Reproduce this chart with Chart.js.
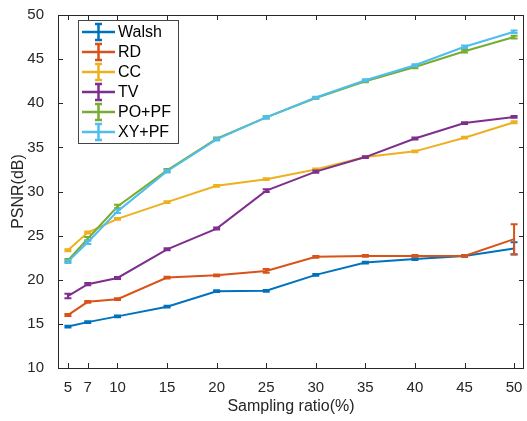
<!DOCTYPE html>
<html>
<head>
<meta charset="utf-8">
<script src="https://cdn.jsdelivr.net/npm/chart.js@4"></script>
<style>
  html, body { margin: 0; padding: 0; background: #fff; }
  #wrap { width: 527px; height: 421px; }
</style>
</head>
<body>
<div id="wrap"><canvas id="myChart" width="527" height="421"></canvas></div>
<script>
const ratios = [5, 7, 10, 15, 20, 25, 30, 35, 40, 45, 50];
const xTicks = [5, 7, 10, 15, 20, 25, 30, 35, 40, 45, 50];
const yTicks = [10, 15, 20, 25, 30, 35, 40, 45, 50];

const walsh = [14.7, 15.2, 15.85, 16.95, 18.7, 18.75, 20.55, 21.95, 22.35, 22.7, 23.55];
const rd    = [16.0, 17.5, 17.8, 20.25, 20.5, 21.0, 22.6, 22.7, 22.7, 22.7, 24.6];
const cc    = [23.35, 25.35, 26.9, 28.8, 30.65, 31.4, 32.5, 33.9, 34.55, 36.1, 37.85];
const tv    = [18.15, 19.5, 20.2, 23.45, 25.8, 30.1, 32.25, 33.9, 36.0, 37.75, 38.45];
const popf  = [22.2, 24.65, 28.3, 32.4, 36.0, 38.4, 40.6, 42.5, 44.1, 45.9, 47.5];
const xypf  = [22.05, 24.25, 27.75, 32.3, 35.9, 38.4, 40.65, 42.6, 44.3, 46.4, 48.1];

// error bar half-lengths
const walshErr = [0.1, 0.1, 0.1, 0.1, 0.1, 0.1, 0.1, 0.1, 0.1, 0.1, 0.7];
const rdErr    = [0.12, 0.1, 0.1, 0.1, 0.1, 0.22, 0.1, 0.1, 0.1, 0.1, 1.7];
const ccErr    = [0.12, 0.12, 0.1, 0.1, 0.1, 0.1, 0.1, 0.1, 0.1, 0.1, 0.12];
const tvErr    = [0.25, 0.12, 0.12, 0.12, 0.12, 0.15, 0.12, 0.1, 0.12, 0.1, 0.1];
const popfErr  = [0.15, 0.2, 0.2, 0.15, 0.12, 0.12, 0.1, 0.12, 0.12, 0.15, 0.15];
const xypfErr  = [0.15, 0.2, 0.2, 0.15, 0.12, 0.12, 0.1, 0.12, 0.12, 0.15, 0.15];

const names  = ['Walsh', 'RD', 'CC', 'TV', 'PO+PF', 'XY+PF'];
const colors = ['#0072BD', '#D95319', '#EDB120', '#7E2F8E', '#77AC30', '#4DBEEE'];
const series = [walsh, rd, cc, tv, popf, xypf];
const errs   = [walshErr, rdErr, ccErr, tvErr, popfErr, xypfErr];

const FONT = '"Liberation Sans", Arial, sans-serif';
const AXIS = '#262626';

const datasets = names.map((n, i) => ({
  label: n,
  data: ratios.map((x, j) => ({ x: x, y: series[i][j] })),
  errors: errs[i],
  borderColor: colors[i],
  backgroundColor: colors[i],
  borderWidth: 2,
  pointRadius: 0,
  tension: 0,
  order: names.length - i
}));

// error bars drawn per dataset, so later series sit on top
const errorBars = {
  id: 'errorBars',
  afterDatasetDraw(chart, args) {
    const ds = chart.data.datasets[args.index];
    const xs = chart.scales.x, ys = chart.scales.y;
    const ctx = chart.ctx;
    ctx.save();
    ctx.strokeStyle = ds.borderColor;
    ctx.lineWidth = 2;
    ds.data.forEach((p, j) => {
      const e = ds.errors[j];
      const px = xs.getPixelForValue(p.x);
      const top = ys.getPixelForValue(p.y + e);
      const bot = ys.getPixelForValue(p.y - e);
      ctx.beginPath();
      ctx.moveTo(px, top); ctx.lineTo(px, bot);
      ctx.moveTo(px - 3.5, top); ctx.lineTo(px + 3.5, top);
      ctx.moveTo(px - 3.5, bot); ctx.lineTo(px + 3.5, bot);
      ctx.stroke();
    });
    ctx.restore();
  }
};

// MATLAB style box with inward ticks, plus the legend box
const frame = {
  id: 'frame',
  afterDraw(chart) {
    const ctx = chart.ctx;
    const a = chart.chartArea;
    const xs = chart.scales.x, ys = chart.scales.y;
    ctx.save();
    ctx.strokeStyle = AXIS;
    ctx.lineWidth = 1;
    ctx.strokeRect(a.left + 0.5, a.top + 0.5, a.right - a.left - 1, a.bottom - a.top);
    ctx.beginPath();
    xTicks.forEach(v => {
      const px = Math.round(xs.getPixelForValue(v)) + 0.5;
      ctx.moveTo(px, a.bottom); ctx.lineTo(px, a.bottom - 5);
      ctx.moveTo(px, a.top); ctx.lineTo(px, a.top + 5);
    });
    yTicks.forEach(v => {
      const py = Math.round(ys.getPixelForValue(v)) + 0.5;
      ctx.moveTo(a.left, py); ctx.lineTo(a.left + 5, py);
      ctx.moveTo(a.right, py); ctx.lineTo(a.right - 5, py);
    });
    ctx.stroke();

    // legend
    const lx = 78, ly = 20, lw = 100, lh = 123;
    ctx.fillStyle = '#fff';
    ctx.fillRect(lx, ly, lw, lh);
    ctx.strokeStyle = '#444';
    ctx.strokeRect(lx + 0.5, ly + 0.5, lw, lh);
    ctx.font = '16px ' + FONT;
    ctx.textBaseline = 'middle';
    chart.data.datasets.forEach((ds, i) => {
      const cy = ly + 12 + i * 20;
      ctx.strokeStyle = ds.borderColor;
      ctx.lineWidth = 2.5;
      ctx.beginPath();
      ctx.moveTo(82, cy); ctx.lineTo(115, cy);
      ctx.moveTo(98.5, cy - 8); ctx.lineTo(98.5, cy + 8);
      ctx.moveTo(95, cy - 8); ctx.lineTo(102, cy - 8);
      ctx.moveTo(95, cy + 8); ctx.lineTo(102, cy + 8);
      ctx.stroke();
      ctx.fillStyle = '#000';
      ctx.fillText(ds.label, 118, cy + 1);
    });
    ctx.restore();
  }
};

const config = {
  type: 'line',
  data: { datasets: datasets },
  options: {
    responsive: false,
    animation: false,
    layout: { padding: { top: 5, right: 3, left: 0, bottom: 0 } },
    plugins: { legend: { display: false }, tooltip: { enabled: false } },
    scales: {
      x: {
        type: 'linear',
        min: 4, max: 51,
        afterBuildTicks(s) { s.ticks = xTicks.map(v => ({ value: v })); },
        afterFit(s) { s.height = 53; },
        grid: { display: false },
        border: { display: false },
        ticks: { color: AXIS, font: { family: FONT, size: 15 }, padding: 3, maxRotation: 0, autoSkip: false },
        title: { display: true, text: 'Sampling ratio(%)', color: AXIS, font: { family: FONT, size: 16 }, padding: { top: 0, bottom: 5 } }
      },
      y: {
        min: 10, max: 50,
        afterBuildTicks(s) { s.ticks = yTicks.map(v => ({ value: v })); },
        afterFit(s) { s.width = 58; },
        grid: { display: false },
        border: { display: false },
        ticks: { color: AXIS, font: { family: FONT, size: 15 }, padding: 6 },
        title: { display: true, text: 'PSNR(dB)', color: AXIS, font: { family: FONT, size: 16 }, padding: { top: 9, bottom: 0 } }
      }
    }
  },
  plugins: [errorBars, frame]
};

const myChart = new Chart(document.getElementById('myChart'), config);
</script>
</body>
</html>
